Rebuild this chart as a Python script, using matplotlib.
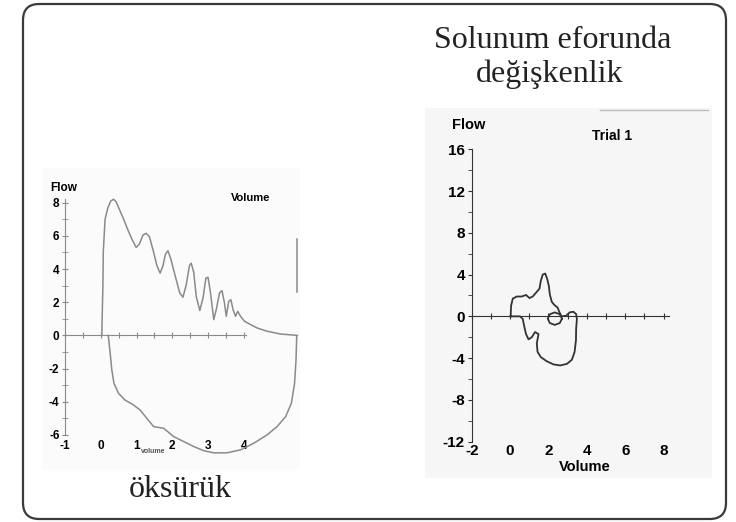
import matplotlib
matplotlib.use("Agg")
import matplotlib.pyplot as plt
from matplotlib.patches import FancyBboxPatch, Rectangle
from matplotlib.lines import Line2D

plt.rcParams["axes.unicode_minus"] = False

W, H = 736, 522

# --- left panel: cough flow-volume loop (öksürük)
cough_exp_vol = [0.03, 0.04, 0.06, 0.07, 0.12, 0.2, 0.28, 0.36, 0.43, 0.52, 0.64, 0.75, 0.87,
                 0.99, 1.08, 1.18, 1.27, 1.36, 1.48, 1.57, 1.66, 1.74, 1.81, 1.88, 1.96, 2.08,
                 2.21, 2.30, 2.39, 2.48, 2.53, 2.60, 2.67, 2.77, 2.86, 2.94, 3.0, 3.07, 3.16,
                 3.23, 3.32, 3.39, 3.46, 3.51, 3.58, 3.64, 3.70, 3.77, 3.83, 3.91, 4.02, 4.19,
                 4.37, 4.65, 5.03, 5.5]
cough_exp_flow = [0.0, 1.15, 2.96, 5.0, 7.0, 7.7, 8.1, 8.2, 8.05, 7.6, 7.0, 6.4, 5.8,
                  5.3, 5.5, 6.05, 6.15, 5.95, 5.0, 4.2, 3.75, 4.2, 4.9, 5.1, 4.6, 3.6,
                  2.55, 2.3, 3.05, 4.2, 4.35, 3.8, 2.35, 1.5, 2.25, 3.45, 3.5, 2.55, 0.95,
                  1.55, 2.55, 2.7, 1.95, 1.15, 2.05, 2.15, 1.55, 1.15, 1.45, 1.15, 0.85, 0.65,
                  0.45, 0.25, 0.08, 0.0]
cough_insp_vol = [0.21, 0.26, 0.31, 0.37, 0.5, 0.68, 0.92, 1.1, 1.29, 1.48, 1.76, 2.04, 2.32,
                  2.6, 2.88, 3.16, 3.53, 3.91, 4.28, 4.65, 4.93, 5.17, 5.33, 5.42, 5.46, 5.48]
cough_insp_flow = [0.0, -1.0, -2.1, -2.9, -3.5, -3.9, -4.2, -4.5, -5.0, -5.5, -5.6, -6.1, -6.4,
                   -6.7, -6.95, -7.08, -7.08, -6.9, -6.5, -6.0, -5.5, -4.9, -4.1, -2.9, -1.5, -0.05]
cough_edge_vol = [5.5, 5.5]
cough_edge_flow = [5.8, 2.6]
cough_yticks = [-6, -4, -2, 0, 2, 4, 6, 8]
cough_xticks = [-1, 0, 1, 2, 3, 4]

# --- right panel: Trial 1 loop
trial_vol = [0.03, 0.05, 0.14, 0.35, 0.61, 0.83, 1.01, 1.18, 1.39, 1.53, 1.60, 1.70, 1.83, 1.93,
             2.02, 2.07, 2.17, 2.30, 2.47, 2.57, 2.68, 2.92, 3.10, 3.30, 3.44, 3.48, 3.44, 3.43,
             3.36, 3.22, 2.96, 2.61, 2.26, 1.91, 1.60, 1.43, 1.39, 1.48, 1.30, 1.13, 0.96, 0.83,
             0.73, 0.66, 0.52, 0.03]
trial_flow = [0.0, 1.0, 1.7, 1.9, 1.9, 2.05, 1.75, 1.9, 2.35, 2.65, 3.4, 4.0, 4.1, 3.6,
              2.9, 2.1, 1.4, 1.1, 0.85, 0.4, 0.0, 0.06, 0.38, 0.44, 0.22, -0.25, -1.2, -2.3,
              -3.4, -4.15, -4.55, -4.7, -4.6, -4.3, -3.9, -3.4, -2.6, -1.7, -1.5, -2.0, -2.2, -1.7,
              -0.9, -0.25, 0.0, 0.0]
ring_vol = [2.70, 2.59, 2.33, 2.07, 1.96, 2.07, 2.33, 2.59, 2.70]
ring_flow = [-0.22, 0.2, 0.38, 0.2, -0.22, -0.64, -0.82, -0.64, -0.22]
trial_yticks = [-12, -8, -4, 0, 4, 8, 12, 16]
trial_xticks = [-2, 0, 2, 4, 6, 8]


def px_box(x0, y0, x1, y1):
    # pixel box (top-left origin) -> figure fraction [l, b, w, h]
    return [x0 / W, 1 - y1 / H, (x1 - x0) / W, (y1 - y0) / H]


fig = plt.figure(figsize=(W / 100, H / 100), dpi=100)
fig.patch.set_facecolor("white")

# slide pieces behind the charts
l, b, w, h = px_box(425, 108, 712, 478)
fig.add_artist(Rectangle((l, b), w, h, transform=fig.transFigure, color="#f6f6f6", lw=0, zorder=0))
l, b, w, h = px_box(42, 168, 300, 470)
fig.add_artist(Rectangle((l, b), w, h, transform=fig.transFigure, color="#fbfbfb", lw=0, zorder=0))
fig.add_artist(Line2D([600 / W, 708 / W], [1 - 110 / H] * 2, transform=fig.transFigure,
                      color="#bdbdbd", lw=1))
l, b, w, h = px_box(23, 4, 726, 519)
fig.add_artist(FancyBboxPatch((l, b), w, h, boxstyle="round,pad=0,rounding_size=0.022",
                              transform=fig.transFigure, fill=False, ec="#3a3a3a", lw=1.6,
                              mutation_aspect=W / H))

sans = "Liberation Sans"
serif = "Liberation Serif"

# ---------- left chart
gl = "#8a8a8a"
ax1 = fig.add_axes(px_box(65, 196, 301, 456.5))
ax1.set_facecolor("none")
ax1.set_xlim(-1, 5.6)
ax1.set_ylim(-7.3, 8.4)
ax1.plot(cough_exp_vol, cough_exp_flow, color=gl, lw=1.1, solid_joinstyle="round")
ax1.plot(cough_insp_vol, cough_insp_flow, color=gl, lw=1.1, solid_joinstyle="round")
ax1.plot(cough_edge_vol, cough_edge_flow, color=gl, lw=1.1)
for s in ["top", "right"]:
    ax1.spines[s].set_visible(False)
ax1.spines["left"].set_bounds(-6, 8.2)
ax1.spines["left"].set_color(gl)
ax1.spines["bottom"].set_position(("data", 0))
ax1.spines["bottom"].set_bounds(-1, 4.05)
ax1.spines["bottom"].set_color(gl)
ax1.set_yticks(cough_yticks)
ax1.set_yticks(range(-6, 9), minor=True)
ax1.set_xticks([v / 2 for v in range(-2, 9)])
ax1.set_xticklabels([])
ax1.tick_params(axis="y", which="both", direction="inout", length=4, color=gl, pad=2,
                labelsize=8.5)
ax1.tick_params(axis="x", direction="inout", length=4, color=gl)
for t in ax1.get_yticklabels():
    t.set_fontfamily(sans)
    t.set_fontweight("bold")
sec1 = ax1.secondary_xaxis(-6.25, transform=ax1.transData)
sec1.spines["bottom"].set_visible(False)
sec1.set_xticks(cough_xticks)
sec1.tick_params(length=0, pad=1, labelsize=8.5)
for t in sec1.get_xticklabels():
    t.set_fontfamily(sans)
    t.set_fontweight("bold")
ax1.text(-1.05, 8.9, "Flow", fontsize=8.5, fontweight="bold", family=sans, ha="center", va="center")
ax1.text(4.2, 8.25, "Volume", fontsize=8, fontweight="bold", family=sans, ha="center", va="center")
ax1.text(1.47, -7.0, "volume", fontsize=5, fontweight="bold", family=sans, ha="center",
         va="center", color="#555555")

# ---------- right chart
gr = "#333333"
ax2 = fig.add_axes(px_box(471.7, 144, 675.2, 441.7))
ax2.set_facecolor("none")
ax2.set_xlim(-2, 8.6)
ax2.set_ylim(-12, 16.5)
ax2.plot(trial_vol, trial_flow, color=gr, lw=1.3, solid_joinstyle="round")
ax2.plot(ring_vol, ring_flow, color=gr, lw=1.3, solid_joinstyle="round")
for s in ["top", "right"]:
    ax2.spines[s].set_visible(False)
ax2.spines["left"].set_bounds(-12, 16)
ax2.spines["left"].set_color(gr)
ax2.spines["bottom"].set_position(("data", 0))
ax2.spines["bottom"].set_bounds(-2, 8.3)
ax2.spines["bottom"].set_color(gr)
ax2.set_yticks(trial_yticks)
ax2.set_yticks(range(-12, 17, 2), minor=True)
ax2.set_xticks(range(-2, 9))
ax2.set_xticklabels([])
ax2.tick_params(axis="y", which="both", direction="out", length=3, color=gr, pad=2,
                labelsize=11)
ax2.tick_params(axis="x", direction="inout", length=5, color=gr)
for t in ax2.get_yticklabels():
    t.set_fontfamily(sans)
    t.set_fontweight("bold")
sec2 = ax2.secondary_xaxis(0.0)
sec2.spines["bottom"].set_visible(False)
sec2.set_xticks(trial_xticks)
sec2.tick_params(length=0, pad=2, labelsize=11)
for t in sec2.get_xticklabels():
    t.set_fontfamily(sans)
    t.set_fontweight("bold")
ax2.text(-2.15, 18.3, "Flow", fontsize=10.5, fontweight="bold", family=sans, ha="center", va="center")
ax2.text(5.3, 17.3, "Trial 1", fontsize=10, fontweight="bold", family=sans, ha="center", va="center")
ax2.text(3.9, -14.4, "Volume", fontsize=10.5, fontweight="bold", family=sans, ha="center", va="center")

# ---------- slide text
fig.text(553 / W, 1 - 48 / H, "Solunum eforunda", fontsize=23, family=serif, color="#222222",
         ha="center", va="baseline")
fig.text(550 / W, 1 - 82 / H, "değişkenlik", fontsize=23, family=serif, color="#222222",
         ha="center", va="baseline")
fig.text(180 / W, 1 - 497 / H, "öksürük", fontsize=23, family=serif, color="#222222",
         ha="center", va="baseline")

fig.savefig("out.png", dpi=100)
